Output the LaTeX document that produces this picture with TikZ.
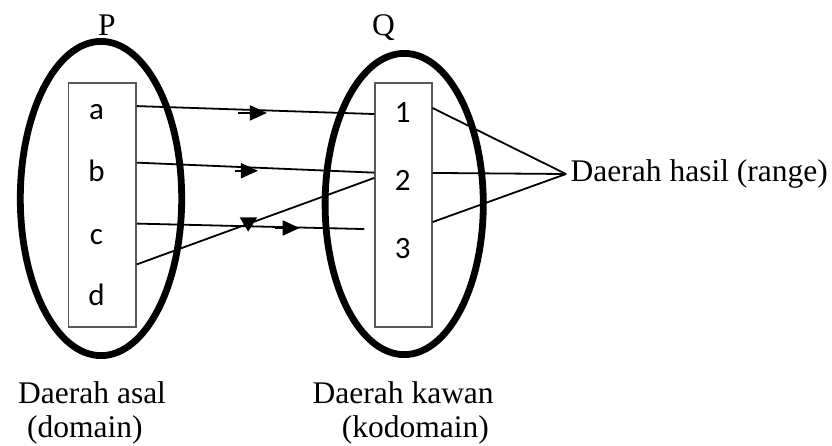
\documentclass[tikz,border=0pt]{standalone}
\usepackage{fontspec}
\setmainfont{Liberation Serif}
\newfontfamily\calib{Carlito}
\usetikzlibrary{arrows.meta,calc}
\begin{document}
\begin{tikzpicture}[x=1pt,y=-1pt,
  setline/.style={line width=6.8pt},
  boxline/.style={draw=black!65,line width=1.6pt},
  conn/.style={line width=1.8pt},
  head/.style={line width=1.8pt,-{Triangle[length=17pt,width=15pt]}},
  lbl/.style={font=\fontsize{31.5}{36}\selectfont,inner sep=0pt,anchor=base west},
  elem/.style={font=\calib\fontsize{31}{35}\selectfont,inner sep=0pt,anchor=base}]
\useasboundingbox (0,0) rectangle (832,445);
% sets
\draw[setline] (101,198.5) ellipse [x radius=80.7, y radius=157.1];
\draw[setline] (404.2,204) ellipse [x radius=79.1, y radius=150.6];
% boxes
\node[boxline,minimum width=67.7pt,minimum height=244pt,inner sep=0pt] (boxP) at (102.2,205) {};
\node[boxline,minimum width=56.7pt,minimum height=244pt,inner sep=0pt] (boxQ) at (403.4,205) {};
% elements
\node[elem] (a) at (96.5,119.3) {a};
\node[elem] (b) at (96.5,181.7) {b};
\node[elem] (c) at (96.5,244) {c};
\node[elem] (d) at (96.5,305) {d};
\node[elem] (n1) at (402.7,122.3) {1};
\node[elem] (n2) at (402.7,190) {2};
\node[elem] (n3) at (402.7,258.3) {3};
% titles
\node[lbl] (P) at (98,35) {P};
\node[lbl] (Q) at (372,35) {Q};
\node[lbl] (dom1) at (18,403) {Daerah asal};
\node[lbl] (dom2) at (27,437) {(domain)};
\node[lbl] (kod1) at (312.5,403) {Daerah kawan};
\node[lbl] (kod2) at (341.7,437) {(kodomain)};
\node[lbl] (rng) at (570.5,181.7) {Daerah hasil (range)};
\coordinate (apex) at (566,174);
% mapping lines
\draw[conn] ($(a -| boxP.east)+(0,-5.8)$) -- ($(n1 -| boxQ.west)+(0,1.7)$) coordinate[pos=0.548] (am);
\draw[conn] ($(b -| boxP.east)+(0,-8.4)$) -- ($(n2 -| boxQ.west)+(0,-7.3)$) coordinate[pos=0.51] (bm);
\draw[conn] ($(c -| boxP.east)+(0,-13)$) -- ($(n3 -| boxQ.west)+(-10,-19.3)$) coordinate[pos=0.716] (cm);
\draw[conn] ($(d -| boxP.east)+(0,-30)$) -- ($(n2 -| boxQ.west)+(0,-2)$) coordinate[pos=0.469] (dm);
% arrowheads
\draw[head] ($(am)+(-29,2.5)$) -- ($(am)+(0,2.5)$);
\draw[head] ($(bm)+(-23,3)$) -- ($(bm)+(0,3)$);
\draw[head] ($(cm)+(-25,0.5)$) -- ($(cm)+(0,0.5)$);
\fill ($(dm)+(-8.5,-6.5)$) -- ($(dm)+(9,-6.5)$) -- ($(dm)+(0,7.8)$) -- cycle;
% range lines
\draw[conn] ($(n1 -| boxQ.east)+(0,-4.3)$) -- (apex);
\draw[conn] ($(n2 -| boxQ.east)+(0,-7)$) -- (apex);
\draw[conn] ($(n3 -| boxQ.east)+(0,-26.3)$) -- (apex);
\end{tikzpicture}
\end{document}
